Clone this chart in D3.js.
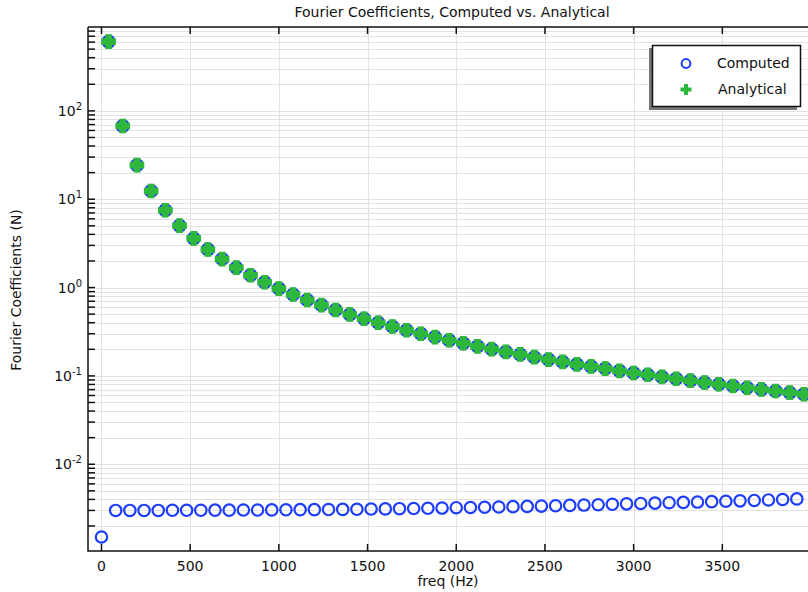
<!DOCTYPE html>
<html>
<head>
<meta charset="utf-8">
<script src="https://cdn.jsdelivr.net/npm/d3@7"></script>
<style>
body { margin: 0; background: #fff; }
text { font-family: "DejaVu Sans", sans-serif; fill: #111; }
</style>
</head>
<body>
<script>
// odd harmonics: computed and analytical overlap
var oddFreq = [40, 120, 200, 280, 360, 440, 520, 600, 680, 760, 840, 920, 1000, 1080, 1160, 1240, 1320, 1400, 1480, 1560,
  1640, 1720, 1800, 1880, 1960, 2040, 2120, 2200, 2280, 2360, 2440, 2520, 2600, 2680, 2760, 2840, 2920, 3000, 3080, 3160,
  3240, 3320, 3400, 3480, 3560, 3640, 3720, 3800, 3880, 3960];
var analytical = [608, 67.5, 24.3, 12.4, 7.51, 5.02, 3.60, 2.70, 2.10, 1.68, 1.38, 1.15, 0.973, 0.834, 0.723, 0.633, 0.558, 0.496, 0.444, 0.400,
  0.362, 0.329, 0.300, 0.275, 0.253, 0.234, 0.216, 0.201, 0.187, 0.175, 0.163, 0.153, 0.144, 0.135, 0.128, 0.121, 0.114, 0.108, 0.103, 0.0974,
  0.0927, 0.0883, 0.0841, 0.0803, 0.0768, 0.0734, 0.0703, 0.0674, 0.0646, 0.0620];
var computedOdd = [608, 67.5, 24.3, 12.4, 7.51, 5.02, 3.60, 2.70, 2.10, 1.68, 1.38, 1.15, 0.973, 0.834, 0.723, 0.633, 0.558, 0.496, 0.444, 0.400,
  0.362, 0.329, 0.300, 0.275, 0.253, 0.234, 0.216, 0.201, 0.187, 0.175, 0.163, 0.153, 0.144, 0.135, 0.128, 0.121, 0.114, 0.108, 0.103, 0.0974,
  0.0927, 0.0883, 0.0841, 0.0803, 0.0768, 0.0734, 0.0703, 0.0674, 0.0646, 0.0620];
// even harmonics: only computed (numerical noise)
var evenFreq = [0, 80, 160, 240, 320, 400, 480, 560, 640, 720, 800, 880, 960, 1040, 1120, 1200, 1280, 1360, 1440, 1520,
  1600, 1680, 1760, 1840, 1920, 2000, 2080, 2160, 2240, 2320, 2400, 2480, 2560, 2640, 2720, 2800, 2880, 2960, 3040, 3120,
  3200, 3280, 3360, 3440, 3520, 3600, 3680, 3760, 3840, 3920];
var computedEven = [0.00150, 0.00300, 0.00300, 0.00300, 0.00300, 0.00301, 0.00301, 0.00301, 0.00302, 0.00302, 0.00303, 0.00303, 0.00304, 0.00305, 0.00306, 0.00306, 0.00307, 0.00308, 0.00309, 0.00311,
  0.00312, 0.00314, 0.00315, 0.00317, 0.00319, 0.00322, 0.00324, 0.00326, 0.00328, 0.00331, 0.00333, 0.00336, 0.00339, 0.00342, 0.00345, 0.00348, 0.00352, 0.00356, 0.00360, 0.00363,
  0.00367, 0.00370, 0.00373, 0.00377, 0.00381, 0.00385, 0.00389, 0.00394, 0.00399, 0.00405];
var xTicks = [0, 500, 1000, 1500, 2000, 2500, 3000, 3500];
var yExps = [-2, -1, 0, 1, 2];

var W = 808, H = 592;
var pLeft = 88, pTop = 27, pRight = 808, pBottom = 551;
var blue = "#1c3dfb", green = "#2db83c";

var svg = d3.select("body").append("svg").attr("width", W).attr("height", H);

var x = d3.scaleLinear().domain([-76, 3983]).range([pLeft, pRight]);
var y = d3.scaleLog().domain([0.001042, 890]).range([pBottom, pTop]);

// grid
var minors = [];
for (var e = -3; e <= 2; e++) for (var m = 1; m <= 9; m++) {
  var v = m * Math.pow(10, e);
  if (v >= y.domain()[0] && v <= y.domain()[1]) minors.push(v);
}
var grid = svg.append("g");
grid.selectAll("line.h").data(minors).join("line")
  .attr("x1", pLeft).attr("x2", pRight)
  .attr("y1", d => Math.round(y(d)) + 0.5).attr("y2", d => Math.round(y(d)) + 0.5)
  .attr("stroke", "#e2e2e2").attr("stroke-width", 1);
grid.selectAll("line.v").data(xTicks).join("line")
  .attr("y1", pTop).attr("y2", pBottom)
  .attr("x1", d => Math.round(x(d)) + 0.5).attr("x2", d => Math.round(x(d)) + 0.5)
  .attr("stroke", "#e2e2e2").attr("stroke-width", 1);

// markers
var plus = "M-7.3,-3.3H-3.3V-7.3H3.3V-3.3H7.3V3.3H3.3V7.3H-3.3V3.3H-7.3Z";
var pts = svg.append("g");
pts.selectAll("circle.e").data(evenFreq).join("circle")
  .attr("cx", d => x(d)).attr("cy", (d, i) => y(computedEven[i])).attr("r", 5.7)
  .attr("fill", "none").attr("stroke", blue).attr("stroke-width", 2.2);
pts.selectAll("circle.o").data(oddFreq).join("circle")
  .attr("cx", d => x(d)).attr("cy", (d, i) => y(computedOdd[i])).attr("r", 6)
  .attr("fill", "none").attr("stroke", blue).attr("stroke-width", 2.2);
pts.selectAll("path").data(oddFreq).join("path")
  .attr("transform", (d, i) => "translate(" + x(d) + "," + y(analytical[i]) + ")")
  .attr("d", plus).attr("fill", green);

// axes
var ax = svg.append("g").attr("stroke", "#111").attr("stroke-width", 1.5).attr("fill", "none");
ax.append("path").attr("d", "M" + pLeft + "," + pTop + "H" + (pRight + 2) + "M" + pLeft + "," + pTop + "V" + pBottom + "H" + (pRight + 2));
ax.selectAll("line.xb").data(xTicks).join("line")
  .attr("x1", d => x(d)).attr("x2", d => x(d)).attr("y1", pBottom).attr("y2", pBottom - 7);
ax.selectAll("line.xt").data(xTicks).join("line")
  .attr("x1", d => x(d)).attr("x2", d => x(d)).attr("y1", pTop).attr("y2", pTop + 7);
ax.selectAll("line.y").data(minors).join("line")
  .attr("x1", pLeft).attr("x2", pLeft + 7).attr("y1", d => y(d)).attr("y2", d => y(d));

svg.append("g").selectAll("text").data(xTicks).join("text")
  .attr("x", d => x(d)).attr("y", 571).attr("text-anchor", "middle")
  .attr("font-size", 14).text(d => d);

var yl = svg.append("g").selectAll("text").data(yExps).join("text")
  .attr("x", 82).attr("y", d => y(Math.pow(10, d)) + 5).attr("text-anchor", "end")
  .attr("font-size", 14);
yl.append("tspan").text("10");
yl.append("tspan").attr("dy", -6).attr("font-size", 10).text(d => d < 0 ? "-" + (-d) : d);

svg.append("text").attr("x", 452).attr("y", 17).attr("text-anchor", "middle")
  .attr("font-size", 14).text("Fourier Coefficients, Computed vs. Analytical");
svg.append("text").attr("x", 448).attr("y", 586).attr("text-anchor", "middle")
  .attr("font-size", 14).text("freq (Hz)");
svg.append("text").attr("transform", "translate(21,290) rotate(-90)").attr("text-anchor", "middle")
  .attr("font-size", 14).text("Fourier Coefficients (N)");

// legend
var lg = svg.append("g");
lg.append("rect").attr("x", 649).attr("y", 48).attr("width", 148).attr("height", 62).attr("fill", "#777");
lg.append("rect").attr("x", 652.5).attr("y", 45.5).attr("width", 148).attr("height", 61)
  .attr("fill", "#fff").attr("stroke", "#111").attr("stroke-width", 1.5);
lg.append("circle").attr("cx", 686).attr("cy", 63.5).attr("r", 4.4)
  .attr("fill", "none").attr("stroke", blue).attr("stroke-width", 2);
lg.append("path").attr("transform", "translate(686,89.5)")
  .attr("d", "M-5.5,-2H-2V-5.5H2V-2H5.5V2H2V5.5H-2V2H-5.5Z").attr("fill", green);
lg.append("text").attr("x", 717).attr("y", 68).attr("font-size", 14).text("Computed");
lg.append("text").attr("x", 718).attr("y", 94).attr("font-size", 14).text("Analytical");
</script>
</body>
</html>
